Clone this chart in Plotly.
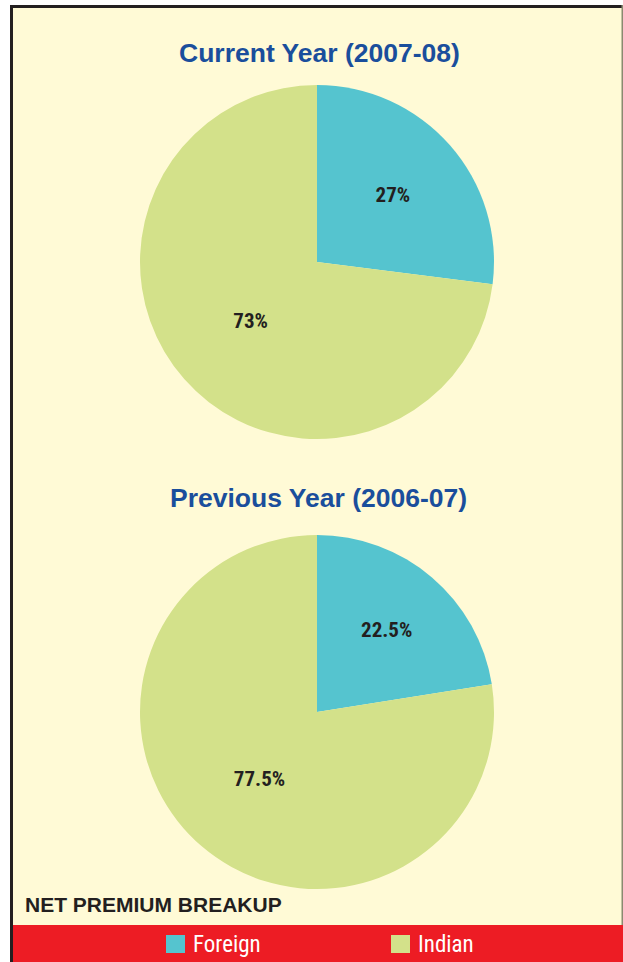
import plotly.graph_objects as go

W, H = 623, 962

labels = ["Foreign", "Indian"]
current_values = [27, 73]
previous_values = [22.5, 77.5]
titles = ["Current Year (2007-08)", "Previous Year (2006-07)"]
footer = "NET PREMIUM BREAKUP"
colors = ["#55C4CF", "#D3E18A"]

BG = "#FFFAD6"
RED = "#ED1C24"
BLUE = "#1A4E9C"
DARK = "#231F20"

CONDENSED = ("Noto Sans ExtraCondensed, Noto Sans Condensed, Roboto Condensed, "
             "Liberation Sans Narrow, DejaVu Sans Condensed, Open Sans Condensed, "
             "Liberation Sans, sans-serif")


def px_x(x):
    return x / W


def px_y(y):
    return 1 - y / H


fig = go.Figure()

label_font = dict(family=CONDENSED, size=21, color=DARK)

pie_boxes = [(85, 439), (535, 889)]
for vals, (top, bottom) in zip([current_values, previous_values], pie_boxes):
    fig.add_trace(go.Pie(
        labels=labels,
        values=vals,
        sort=False,
        direction="clockwise",
        rotation=0,
        marker=dict(colors=colors, line=dict(width=0)),
        texttemplate="<b>%{value}%</b>",
        textposition="inside",
        insidetextorientation="horizontal",
        textfont=label_font,
        hoverinfo="label+value",
        domain=dict(x=[px_x(140), px_x(494)], y=[px_y(bottom), px_y(top)]),
        showlegend=False,
    ))

shapes = [
    # white outside the frame
    dict(type="rect", xref="paper", yref="paper", x0=0, x1=px_x(10), y0=0, y1=1,
         fillcolor="white", line=dict(width=0), layer="below"),
    dict(type="rect", xref="paper", yref="paper", x0=0, x1=1, y0=px_y(5), y1=1,
         fillcolor="white", line=dict(width=0), layer="below"),
    # red band at bottom
    dict(type="rect", xref="paper", yref="paper", x0=px_x(12), x1=1, y0=0, y1=px_y(925),
         fillcolor=RED, line=dict(width=0), layer="below"),
    # top black border
    dict(type="rect", xref="paper", yref="paper", x0=px_x(10), x1=1, y0=px_y(8), y1=px_y(5),
         fillcolor=DARK, line=dict(width=0)),
    # left black border
    dict(type="rect", xref="paper", yref="paper", x0=px_x(10), x1=px_x(13), y0=0, y1=px_y(5),
         fillcolor=DARK, line=dict(width=0)),
    # right thin border
    dict(type="rect", xref="paper", yref="paper", x0=px_x(621.5), x1=1, y0=px_y(925), y1=px_y(5),
         fillcolor="#8A8A70", line=dict(width=0)),
]

title_font = dict(family="Liberation Sans, Arial, sans-serif", size=26.5, color=BLUE)
annotations = [
    dict(text="<b>%s</b>" % titles[0], x=px_x(319), y=px_y(53), xref="paper", yref="paper",
         showarrow=False, font=title_font, xanchor="center", yanchor="middle"),
    dict(text="<b>%s</b>" % titles[1], x=px_x(318), y=px_y(498), xref="paper", yref="paper",
         showarrow=False, font=title_font, xanchor="center", yanchor="middle"),
    dict(text="<b>%s</b>" % footer, x=px_x(23), y=px_y(904), xref="paper", yref="paper",
         showarrow=False, font=dict(family="Liberation Sans, Arial, sans-serif", size=21, color=DARK),
         xanchor="left", yanchor="middle"),
]

# legend in the red band (swatch + label per category)
legend_x = [166, 391]
for name, col, lx in zip(labels, colors, legend_x):
    shapes.append(dict(type="rect", xref="paper", yref="paper",
                       x0=px_x(lx), x1=px_x(lx + 19), y0=px_y(953), y1=px_y(935),
                       fillcolor=col, line=dict(width=0)))
    annotations.append(dict(text=name, x=px_x(lx + 25), y=px_y(944), xref="paper", yref="paper",
                            showarrow=False, xanchor="left", yanchor="middle",
                            font=dict(family=CONDENSED, size=23, color="white")))

fig.update_layout(
    width=W, height=H,
    margin=dict(l=0, r=0, t=0, b=0),
    paper_bgcolor=BG,
    plot_bgcolor=BG,
    shapes=shapes,
    annotations=annotations,
    showlegend=False,
)

fig.write_html("out.html",
               config={"displayModeBar": False},
               post_script="document.body.style.margin='0';document.body.style.overflow='hidden';")
